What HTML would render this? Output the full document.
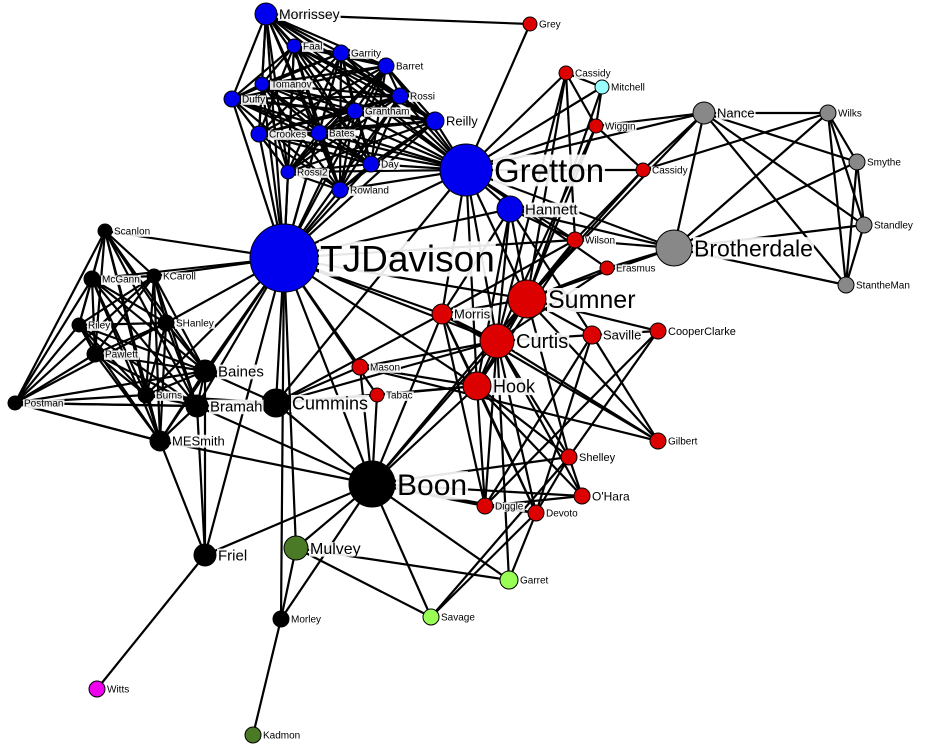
<!DOCTYPE html>
<html><head><meta charset="utf-8"><style>
html,body{margin:0;padding:0;background:#fff;width:933px;height:748px;overflow:hidden}
svg{display:block}
text{font-family:"Liberation Sans","DejaVu Sans",sans-serif}
</style></head><body>
<svg id="g" width="933" height="748"></svg>
<script>
const B="#0000ee",R="#dd0000",G="#888888",K="#000000",DG="#4a7a25",LG="#99ff55",CY="#99ffff",MG="#ee00ee";
const nodeNames=["Morrissey","Faal","Garrity","Barret","Tomanov","Duffy","Rossi","Grantham","Reilly","Crookes","Bates","Day","Rossi2","Rowland","Gretton","Hannett","TJDavison",
"Grey","Cassidy","Mitchell","Wiggin","Cassidy2","Wilson","Erasmus","Sumner","Morris","Curtis","Saville","CooperClarke","Mason","Tabac","Hook","Gilbert","Shelley","O'Hara","Diggle","Devoto",
"Nance","Wilks","Smythe","Standley","Brotherdale","StantheMan",
"Scanlon","McGann","KCaroll","Riley","SHanley","Pawlett","Baines","Burns","Bramah","Postman","Cummins","MESmith","Boon","Friel","Morley",
"Mulvey","Kadmon","Garret","Savage","Witts"];
const nodeX=[266,294,341,386,262,232,400,355,435,259,319,371,288,340,466,510,284, 530,566,602,596,643,575,607,527,442,497,592,658,360,377,477,658,569,582,485,536, 704,828,857,864,674,846, 105,92,154,79,166,95,205,146,197,15,276,160,372,205,281, 296,253,509,431,97];
const nodeY=[14,46,53,66,84,99,96,111,121,134,133,164,172,190,170,209,258, 24,73,87,126,170,240,268,299,314,341,335,331,367,395,386,441,457,496,506,513, 113,113,162,225,248,285, 231,279,276,325,323,354,371,395,406,403,403,441,484,555,619, 548,735,580,617,689];
const nodeR=[11,7,8,8,7,8,8,8,9,8,8,8,7,8,26,13,34, 7,7,7,7,7,8,7,19,10,17,9,8,8,7,14,8,8,8,8,8, 11,8,8,8,18,8, 7,8,7,7,8,8,11,8,11,7,14,10,23,11,8, 12,8,9,8,8];
const nodeCol=[B,B,B,B,B,B,B,B,B,B,B,B,B,B,B,B,B, R,R,CY,R,R,R,R,R,R,R,R,R,R,R,R,R,R,R,R,R, G,G,G,G,G,G, K,K,K,K,K,K,K,K,K,K,K,K,K,K,K, DG,DG,LG,LG,MG];
const labelText=["Morrissey","Faal","Garrity","Barret","Tomanov","Duffy","Rossi","Grantham","Reilly","Crookes","Bates","Day","Rossi2","Rowland","Gretton","Hannett","TJDavison",
"Grey","Cassidy","Mitchell","Wiggin","Cassidy","Wilson","Erasmus","Sumner","Morris","Curtis","Saville","CooperClarke","Mason","Tabac","Hook","Gilbert","Shelley","O'Hara","Diggle","Devoto",
"Nance","Wilks","Smythe","Standley","Brotherdale","StantheMan",
"Scanlon","McGann","KCaroll","Riley","SHanley","Pawlett","Baines","Burns","Bramah","Postman","Cummins","MESmith","Boon","Friel","Morley",
"Mulvey","Kadmon","Garret","Savage","Witts"];
const labelSize=[14,10,10,10,10,10,10,10,13,10,10,10,10,10,33,15,37, 10,10,10,10,10,10,10,25,13,20,13,11,10,10,18,10,11,12,10,10, 13,10,10,10,23,10, 10,10,10,10,10,10,15,10,15,10,18,13,30,15,10, 16,10,10,10,10];
const blueCl=[0,1,2,3,4,5,6,7,8,9,10,11,12,13,14,16];
const blackCl=[43,44,45,46,47,48,49,50,51,52,54];
const grayCl=[37,38,39,40,41,42];
const extraEdges=[[0,17],[17,14],[14,15],[16,15],[14,18],[14,19],[14,20],[14,21],[14,22],[14,24],[14,26],[14,31],[14,25],[14,23],[14,41],[14,37],[15,24],[15,26],[15,22],[15,31],[15,25],[15,27],
[18,19],[18,20],[18,24],[18,26],[18,22],[19,20],[19,24],[20,24],[20,26],[20,21],[21,24],[21,22],[22,24],[22,26],[22,31],[22,25],[23,24],[23,26],[24,26],[24,31],[24,25],[24,27],[25,26],[25,31],[26,31],[26,27],[27,28],[24,28],
[37,20],[37,21],[37,24],[41,24],[41,22],[41,15],[38,21],[41,23],
[16,24],[16,26],[16,25],[16,31],[16,29],[16,30],[16,55],[16,53],[16,57],[16,58],[16,56],[16,22],
[53,49],[53,51],[53,55],[53,31],[53,25],[53,29],[53,30],[53,26],[53,50],[53,14],
[55,54],[55,51],[55,56],[55,58],[55,57],[55,61],[55,60],[55,31],[55,26],[55,24],[55,33],[55,35],[55,36],[55,34],[55,29],[55,30],[55,25],
[56,62],[56,54],[56,49],[56,51],[58,57],[57,59],[58,60],[58,61],[61,36],[60,36],[60,26],[61,33],
[31,35],[31,36],[31,33],[26,35],[26,36],[26,33],[26,34],[24,33],[27,36],[28,35],[28,33],[32,24],[32,25],[32,26],[32,27],[35,36],[35,34],[36,33],[33,34],[25,35],[25,36],[29,31],[29,32],[30,31],[29,26],[31,34],[27,35],
[43,16],[45,16],[44,16],[47,16],[49,16],[51,16],[54,16],[50,16],[52,54],[52,51],[54,51]];
const svg=document.getElementById('g'),NS="http://www.w3.org/2000/svg";
function mk(t,a){const e=document.createElementNS(NS,t);for(const k in a)e.setAttribute(k,a[k]);return e;}
const edges=[];
[blueCl,blackCl,grayCl].forEach(c=>{for(let i=0;i<c.length;i++)for(let j=i+1;j<c.length;j++)edges.push([c[i],c[j]]);});
extraEdges.forEach(e=>edges.push(e));
const eg=mk('g',{});


svg.appendChild(eg);
edges.forEach(([a,b])=>{
  const l=mk('line',{x1:nodeX[a],y1:nodeY[a],x2:nodeX[b],y2:nodeY[b],stroke:'#000','stroke-width':2.2});
  
  
  eg.appendChild(l);
});
const ng=mk('g',{});


svg.appendChild(ng);
nodeNames.forEach((n,i)=>{
  const c=mk('circle',{cx:nodeX[i],cy:nodeY[i],r:nodeR[i],fill:nodeCol[i],stroke:'#000','stroke-width':1});
  
  
  ng.appendChild(c);
});
const lg=mk('g',{});


svg.appendChild(lg);
nodeNames.forEach((n,i)=>{
  const fs=labelSize[i],x=nodeX[i]+nodeR[i]+2,y=nodeY[i];
  const t=mk('text',{x:x,y:y+fs*0.36,'font-size':fs,fill:'#000'});
  t.textContent=labelText[i];
  
  
  lg.appendChild(t);
  const bb=t.getBBox();
  const r=mk('rect',{x:bb.x-1,y:bb.y+fs*0.08,width:bb.width+2,height:bb.height*0.86,fill:'#fff','fill-opacity':0.9});
  
  
  lg.insertBefore(r,t);
});
</script>
</body></html>
